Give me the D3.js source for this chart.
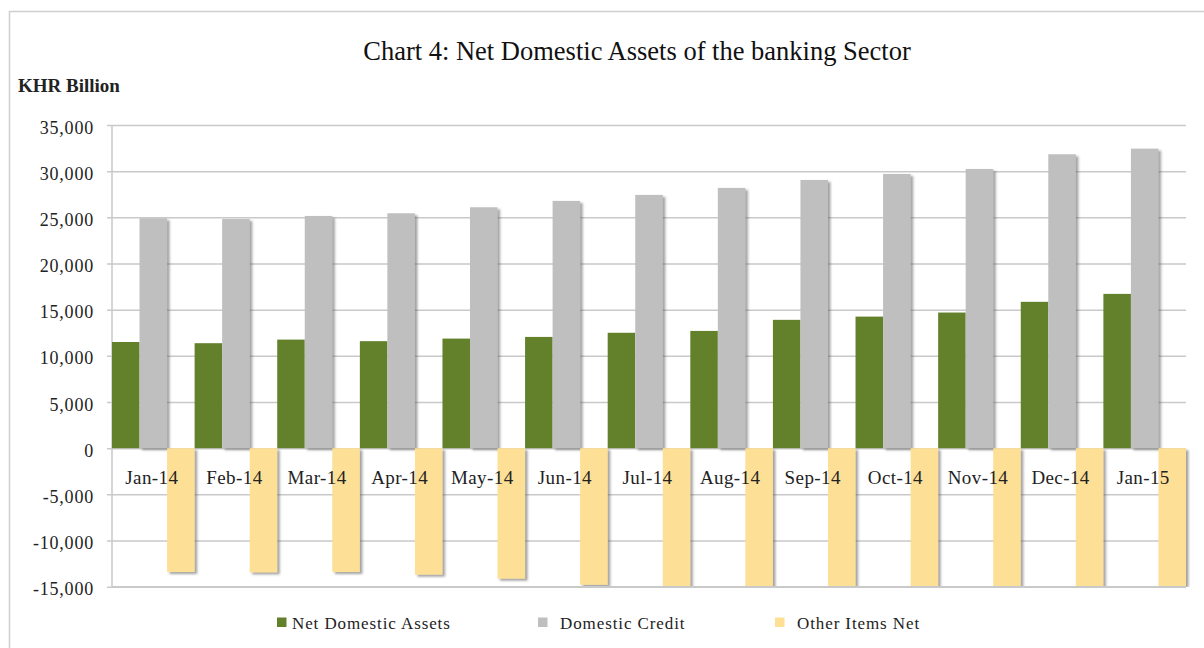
<!DOCTYPE html>
<html>
<head>
<meta charset="utf-8">
<script src="https://cdn.jsdelivr.net/npm/d3@7"></script>
<style>
  html, body { margin: 0; padding: 0; background: #fff; }
  svg, svg text { font-family: "Liberation Serif", "Times New Roman", "DejaVu Serif", serif !important; }
</style>
</head>
<body>
<svg id="chart" width="1204" height="648"></svg>
<script>
// ---- data ----
const months = ["Jan-14","Feb-14","Mar-14","Apr-14","May-14","Jun-14","Jul-14","Aug-14","Sep-14","Oct-14","Nov-14","Dec-14","Jan-15"];
const netDomesticAssets = [11500, 11370, 11760, 11590, 11870, 12050, 12500, 12700, 13900, 14250, 14690, 15850, 16710];
const domesticCredit    = [24900, 24830, 25150, 25440, 26090, 26780, 27430, 28190, 29050, 29700, 30240, 31830, 32440];
const otherItemsNet     = [-13410, -13450, -13410, -13700, -14130, -14800, -14950, -15490, -15150, -15450, -15550, -15980, -15730];
const seriesNames = ["Net Domestic Assets", "Domestic Credit", "Other Items Net"];
const yTicks = [35000, 30000, 25000, 20000, 15000, 10000, 5000, 0, -5000, -10000, -15000];
const titleText = "Chart 4: Net Domestic Assets of the banking Sector";
const unitText = "KHR Billion";

// ---- styles ----
const colors = ["#62812a", "#bfbfbf", "#fddf96"];
const gridColor = "#c9c9c9";
const FONT = '"Liberation Serif", "Times New Roman", "DejaVu Serif", serif';

const svg = d3.select("#chart");
const W = 1204, H = 648;
const plot = { left: 112, right: 1186, top: 125, bottom: 586.7 };

svg.append("rect").attr("width", W).attr("height", H).attr("fill", "#fff");
svg.append("rect").attr("x", 9.5).attr("y", 11.5).attr("width", 1300).attr("height", 800)
  .attr("fill", "none").attr("stroke", "#cfcfcf").attr("stroke-width", 1.5);

const defs = svg.append("defs");
const f = defs.append("filter").attr("id", "shadow").attr("x", "-20%").attr("y", "-20%").attr("width", "150%").attr("height", "150%");
f.append("feDropShadow").attr("dx", 2.5).attr("dy", 2).attr("stdDeviation", 1.2)
  .attr("flood-color", "#555").attr("flood-opacity", 0.55);
defs.append("clipPath").attr("id", "plotclip").append("rect")
  .attr("x", plot.left).attr("y", plot.top - 20)
  .attr("width", plot.right - plot.left + 10).attr("height", plot.bottom - plot.top + 20);

const x = d3.scaleBand().domain(months).range([plot.left, plot.right]).padding(0);
const xs = d3.scaleBand().domain(seriesNames).range([0, x.bandwidth()]).padding(0);
const y = d3.scaleLinear().domain([-15000, 35000]).range([plot.bottom, plot.top]);

// gridlines + y axis
const fmt = d3.format(",");
const yAxis = d3.axisLeft(y).tickValues(yTicks).tickSize(-(plot.right - plot.left)).tickSizeOuter(0)
  .tickFormat(d => fmt(d).replace("\u2212", "-"));
const gy = svg.append("g").attr("transform", `translate(${plot.left},0)`).call(yAxis)
  .attr("font-family", FONT);
gy.select(".domain").remove();
gy.selectAll(".tick line").attr("stroke", gridColor).attr("stroke-width", 1.5).attr("x1", -5);
gy.selectAll(".tick text").attr("x", -18).attr("dy", "0.45em")
  .attr("font-size", 18).attr("letter-spacing", 0.8).attr("fill", "#222")
  .style("font-family", FONT);
// vertical axis line
svg.append("line").attr("x1", plot.left).attr("x2", plot.left).attr("y1", plot.top).attr("y2", plot.bottom)
  .attr("stroke", gridColor).attr("stroke-width", 1.5);

// bars
const series = [netDomesticAssets, domesticCredit, otherItemsNet];
const barsG = svg.append("g").attr("clip-path", "url(#plotclip)");
series.forEach((vals, si) => {
  const g = barsG.append("g").attr("filter", si === 0 ? null : "url(#shadow)");
  g.selectAll("rect").data(vals).join("rect")
    .attr("x", (d, i) => x(months[i]) + xs(seriesNames[si]))
    .attr("width", xs.bandwidth())
    .attr("y", d => y(Math.max(0, d)))
    .attr("height", d => Math.abs(y(d) - y(0)))
    .attr("fill", colors[si]);
});
// redraw bottom axis line over clipped bars
svg.append("line").attr("x1", plot.left).attr("x2", plot.right).attr("y1", y(-15000)).attr("y2", y(-15000))
  .attr("stroke", gridColor).attr("stroke-width", 1.5);

// category labels
const xAxis = d3.axisBottom(x).tickSize(0).tickSizeOuter(0);
const gx = svg.append("g").attr("transform", `translate(0,${y(0)})`).call(xAxis)
  .attr("font-family", FONT);
gx.select(".domain").remove();
gx.selectAll(".tick text").attr("y", 22).attr("dy", "0.71em").attr("dx", -1.5)
  .attr("font-size", 19).attr("letter-spacing", 0.4).attr("fill", "#222")
  .style("font-family", FONT);

// title
svg.append("text").attr("x", 637).attr("y", 60).attr("text-anchor", "middle")
  .attr("font-size", 26.5).attr("fill", "#111").style("font-family", FONT).text(titleText);
// unit label
svg.append("text").attr("x", 18).attr("y", 92).attr("font-size", 19).attr("font-weight", "bold")
  .attr("fill", "#222").style("font-family", FONT).text(unitText);

// legend
const legendX = [277, 538, 775];
const lg = svg.append("g");
seriesNames.forEach((name, i) => {
  lg.append("rect").attr("x", legendX[i]).attr("y", 617.5).attr("width", 9.5).attr("height", 9.5).attr("fill", colors[i]);
  lg.append("text").attr("x", legendX[i] + (i === 0 ? 15 : 22)).attr("y", 629)
    .attr("font-size", 17).attr("letter-spacing", 0.9).attr("fill", "#222")
    .style("font-family", FONT).text(name);
});
</script>
</body>
</html>
